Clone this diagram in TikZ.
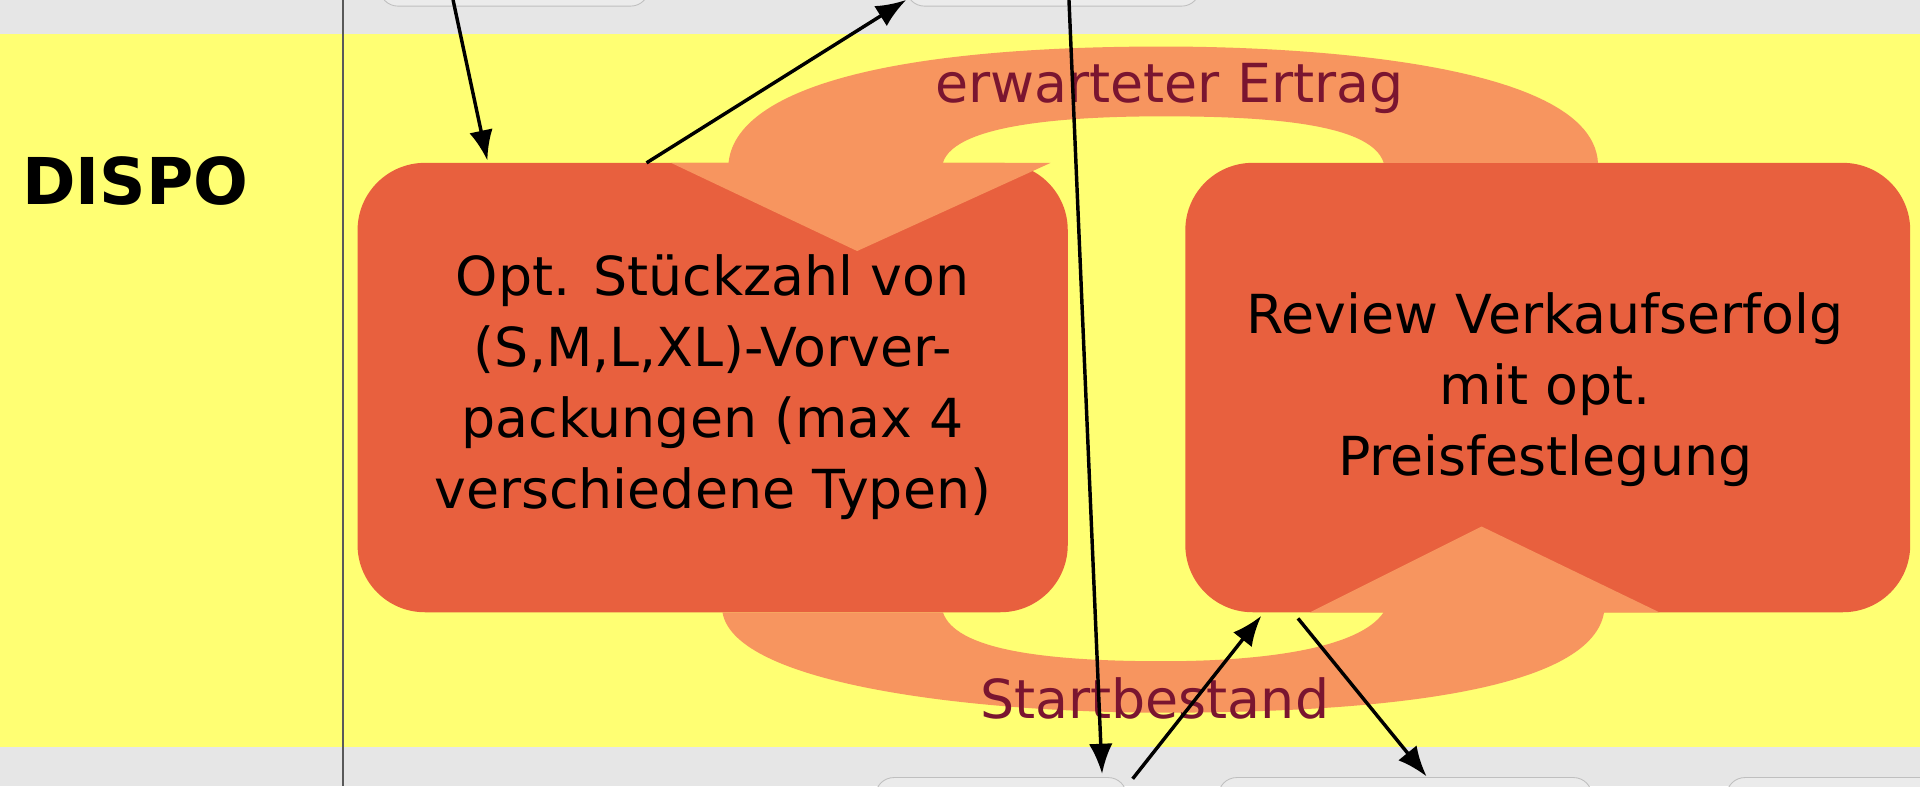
\documentclass[tikz,border=0pt]{standalone}
\usepackage{fontspec}
\setmainfont{DejaVu Sans}
\usetikzlibrary{arrows.meta}
\definecolor{bx}{HTML}{E8603E}
\definecolor{ar}{HTML}{F7955F}
\definecolor{yl}{HTML}{FFFF73}
\definecolor{gb}{HTML}{E6E6E6}
\definecolor{lb}{HTML}{7A1530}
\tikzset{
 box/.style={draw=none,fill=bx,rounded corners=1.1cm,align=center,font=\fontsize{25}{33}\selectfont,text=black},
 flow/.style={line width=1.6pt,-{Latex[length=14pt,width=11pt]}},
 lab/.style={text=lb,font=\fontsize{25}{30}\selectfont},
 gbox/.style={fill=gb!80!white,draw=gray!50,rounded corners=0.3cm}
}
\begin{document}
\begin{tikzpicture}[x=0.02cm,y=-0.02cm]
\useasboundingbox (0,0) rectangle (1568,642);
\fill[gb] (0,0) rectangle (1568,642);
\fill[yl] (0,28) rectangle (1568,610);
\draw[gray!70!black,line width=0.6pt] (280,0) -- (280,642);
% partial gray boxes
\draw[gbox] (310,-30) rectangle (530,5);
\draw[gbox] (740,-30) rectangle (980,5);
\draw[gbox] (715,635) rectangle (920,680);
\draw[gbox] (995,635) rectangle (1300,680);
\draw[gbox] (1410,635) rectangle (1600,680);
\node[anchor=west,font=\bfseries\fontsize{30}{36}\selectfont] (dispo) at (12,148) {DISPO};
% boxes
\node[box,minimum width=580*0.02cm,minimum height=367*0.02cm] (b1) at (582,316.5) {Opt. Stückzahl von\\(S,M,L,XL)-Vorver-\\packungen (max 4\\verschiedene Typen)};
\node[box,minimum width=592*0.02cm,minimum height=367*0.02cm] (b2) at (1264,316.5) {};
\node[align=center,font=\fontsize{25}{33}\selectfont] (t2) at (1262,318) {Review Verkaufserfolg\\mit opt.\\Preisfestlegung};
% circular arrows
\fill[ar] (1305,133) .. controls (1300,40) and (1000,38) .. (950,38)
 .. controls (700,38) and (600,80) .. (595,133) -- (548,133) -- (700,205) -- (858,133) -- (770,133)
 .. controls (780,100) and (880,95) .. (950,95) .. controls (1030,95) and (1120,100) .. (1130,133) -- cycle;
\fill[ar] (590,500) .. controls (600,560) and (800,582) .. (950,582)
 .. controls (1150,582) and (1300,560) .. (1310,500) -- (1355,500) -- (1210,430) -- (1070,500) -- (1130,500)
 .. controls (1110,530) and (1030,540) .. (950,540) .. controls (850,540) and (780,530) .. (770,500) -- cycle;
\node[lab] (ertrag) at (955,72) {erwarteter Ertrag};
\node[lab] (start) at (943,570) {Startbestand};
% flow arrows
\coordinate (a1) at (370,0); \coordinate (a1e) at (398,131);
\coordinate (a2) at (528,133); \coordinate (a2e) at (740,0);
\coordinate (a3) at (873,0); \coordinate (a3e) at (900,632);
\coordinate (a4) at (925,636); \coordinate (a4e) at (1030,503);
\coordinate (a5) at (1060,505); \coordinate (a5e) at (1165,634);
\draw[flow] (a1) -- (a1e);
\draw[flow] (a2) -- (a2e);
\draw[flow] (a3) -- (a3e);
\draw[flow] (a4) -- (a4e);
\draw[flow] (a5) -- (a5e);
\end{tikzpicture}
\end{document}
